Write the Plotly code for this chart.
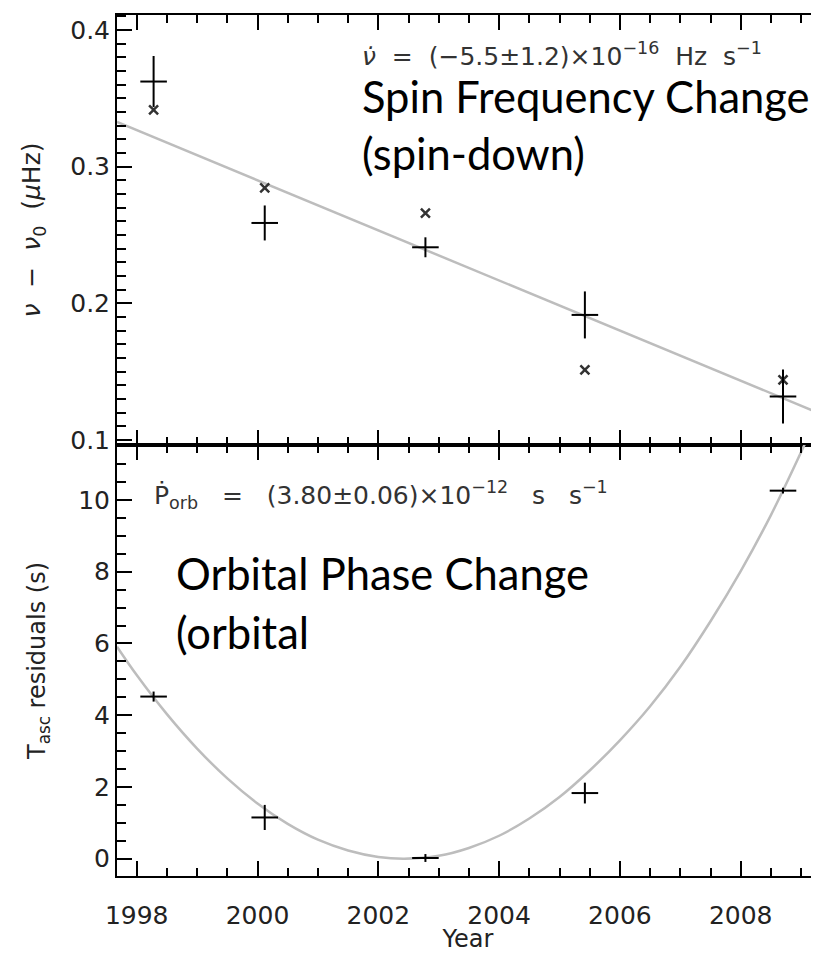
import plotly.graph_objects as go

# ---------------- data ----------------
obs_year = [1998.28, 2000.12, 2002.78, 2005.42, 2008.70]
obs_year_halfspan = [0.22, 0.22, 0.22, 0.22, 0.22]

# top panel: spin frequency offset (micro-Hz)
nu_plus = [0.3623, 0.2588, 0.2410, 0.1915, 0.1318]
nu_plus_err = [0.0187, 0.0128, 0.0073, 0.0172, 0.0198]
nu_cross = [0.3415, 0.2844, 0.2660, 0.1513, 0.1440]
nu_fit_year = [1997.674, 2009.296]
nu_fit_val = [0.3327, 0.1196]

# bottom panel: T_asc residuals (s)
tasc = [4.52, 1.15, 0.02, 1.83, 10.26]
tasc_err = [0.14, 0.35, 0.11, 0.29, 0.08]
tasc_fit_year = [1997.674, 1998.0, 1998.5, 1999.0, 1999.5, 2000.0, 2000.5, 2001.0,
                 2001.5, 2002.0, 2002.43, 2003.0, 2003.5, 2004.0, 2004.5, 2005.0,
                 2005.5, 2006.0, 2006.5, 2007.0, 2007.5, 2008.0, 2008.5, 2009.1]
tasc_fit_val = [5.91, 5.12, 4.03, 3.07, 2.24, 1.54, 0.97, 0.53,
                0.23, 0.05, 0.00, 0.08, 0.30, 0.64, 1.12, 1.72,
                2.46, 3.30, 4.25, 5.35, 6.62, 8.02, 9.58, 11.70]

x_range = [1997.674, 2009.296]
nu_range = [0.0963, 0.4110]
tasc_range = [-0.482, 11.533]

# ---------------- layout geometry ----------------
# the page body has an 8 px margin, so the figure is drawn 8 px smaller
# and its margins are reduced accordingly
OFF = 8
PAGE_W, PAGE_H = 819, 953
W, H = PAGE_W - OFF, PAGE_H - OFF
PLOT_L, PLOT_T, PLOT_B = 117, 15, 876          # page pixels
L, T, B, R = PLOT_L - OFF, PLOT_T - OFF, PAGE_H - PLOT_B, 0
PW, PH = W - L - R, H - T - B
SPLIT = (PLOT_B - 445) / PH


def px(x):
    return (x - PLOT_L) / PW


def py(y):
    return (PLOT_B - y) / PH


TXT = "#222222"
TICKFONT = dict(family="DejaVu Sans", size=25, color=TXT)
FIT_COLOR = "#bdbdbd"

fig = go.Figure()

# fits (drawn first, below the markers)
fig.add_trace(go.Scatter(x=nu_fit_year, y=nu_fit_val, mode="lines",
                         line=dict(color=FIT_COLOR, width=2.5),
                         xaxis="x", yaxis="y", showlegend=False, hoverinfo="skip"))
fig.add_trace(go.Scatter(x=tasc_fit_year, y=tasc_fit_val, mode="lines",
                         line=dict(color=FIT_COLOR, width=2.5, shape="spline"),
                         xaxis="x2", yaxis="y2", showlegend=False, hoverinfo="skip"))

err_style = dict(type="data", symmetric=True, color="black", thickness=2, width=0)

# top: crosses
fig.add_trace(go.Scatter(x=obs_year, y=nu_cross, mode="markers",
                         marker=dict(symbol="x-thin", size=9, color="#333333",
                                     line=dict(width=2.5, color="#333333")),
                         xaxis="x", yaxis="y3", showlegend=False))
# top: pluses with error bars
fig.add_trace(go.Scatter(x=obs_year, y=nu_plus, mode="markers",
                         marker=dict(size=1, color="black"),
                         error_x=dict(array=obs_year_halfspan, **err_style),
                         error_y=dict(array=nu_plus_err, **err_style),
                         xaxis="x", yaxis="y3", showlegend=False))
# bottom: pluses with error bars
fig.add_trace(go.Scatter(x=obs_year, y=tasc, mode="markers",
                         marker=dict(size=1, color="black"),
                         error_x=dict(array=obs_year_halfspan, **err_style),
                         error_y=dict(array=tasc_err, **err_style),
                         xaxis="x2", yaxis="y4", showlegend=False))

axis_common = dict(showgrid=False, zeroline=False, showline=True, linecolor="black",
                   linewidth=2, ticks="inside", tickcolor="black", tickwidth=2,
                   ticklen=15, tickfont=TICKFONT)

fig.update_layout(
    width=W, height=H,
    margin=dict(l=L, r=R, t=T, b=B, pad=0),
    paper_bgcolor="white", plot_bgcolor="white",
    font=dict(family="DejaVu Sans", color=TXT),
    xaxis=dict(**axis_common, domain=[0, 1], anchor="y", range=x_range,
               dtick=2, tick0=1998, showticklabels=False, mirror="ticks",
               minor=dict(dtick=0.5, tick0=1998, ticks="inside", ticklen=8,
                          tickwidth=2, tickcolor="black")),
    xaxis2=dict(**axis_common, domain=[0, 1], anchor="y2", range=x_range,
                dtick=2, tick0=1998, showticklabels=True, mirror="ticks",
                ticklabelstandoff=16,
                title=dict(text="Year", font=dict(family="DejaVu Sans", size=24, color=TXT),
                           standoff=3),
                minor=dict(dtick=0.5, tick0=1998, ticks="inside", ticklen=8,
                           tickwidth=2, tickcolor="black")),
    yaxis=dict(**axis_common, domain=[SPLIT, 1], anchor="x", range=nu_range,
               dtick=0.1, tick0=0, tickformat=".1f", ticklabelstandoff=0,
               title=dict(text="<i>ν</i>  −  <i>ν</i><sub>0</sub>  (<i>μ</i>Hz)",
                          font=dict(family="DejaVu Sans", size=25, color=TXT),
                          standoff=22),
               minor=dict(dtick=0.01, tick0=0, ticks="inside", ticklen=9,
                          tickwidth=2, tickcolor="black")),
    yaxis2=dict(**axis_common, domain=[0, SPLIT], anchor="x2", range=tasc_range,
                dtick=2, tick0=0, ticklabelstandoff=0,
                title=dict(text="T<sub>asc</sub> residuals (s)",
                           font=dict(family="DejaVu Sans", size=24, color=TXT),
                           standoff=26),
                minor=dict(dtick=0.5, tick0=0, ticks="inside", ticklen=9,
                           tickwidth=2, tickcolor="black")),
    yaxis3=dict(overlaying="y", side="right", anchor="x", range=nu_range,
                showgrid=False, zeroline=False, showline=False, showticklabels=False,
                ticks="inside", ticklen=4, tickwidth=2, tickcolor="black",
                dtick=0.1, tick0=0),
    yaxis4=dict(overlaying="y2", side="right", anchor="x2", range=tasc_range,
                showgrid=False, zeroline=False, showline=False, showticklabels=False,
                ticks="inside", ticklen=4, tickwidth=2, tickcolor="black",
                dtick=2, tick0=0),
)

FORMULA_FONT = dict(family="DejaVu Sans", size=25, color="#333333")
LABEL_FONT = dict(family="Lato", size=43.5, color="black")


def note(text, x, y, font):
    fig.add_annotation(text=text, xref="paper", yref="paper", x=px(x), y=py(y),
                       xanchor="left", yanchor="middle", showarrow=False, font=font)


note("<i>ν̇</i>  =  (−5.5±1.2)×10<sup>−16</sup>  Hz  s<sup>−1</sup>", 360, 55, FORMULA_FONT)
note("Spin Frequency Change", 360, 96, LABEL_FONT)
note("(spin-down)", 360, 153, LABEL_FONT)
note("Ṗ<sub>orb</sub>   =   (3.80±0.06)×10<sup>−12</sup>   s   s<sup>−1</sup>",
     152, 495, FORMULA_FONT)
note("Orbital Phase Change", 174, 573, LABEL_FONT)
note("(orbital", 174, 632, LABEL_FONT)

fig.write_html("out.html")
